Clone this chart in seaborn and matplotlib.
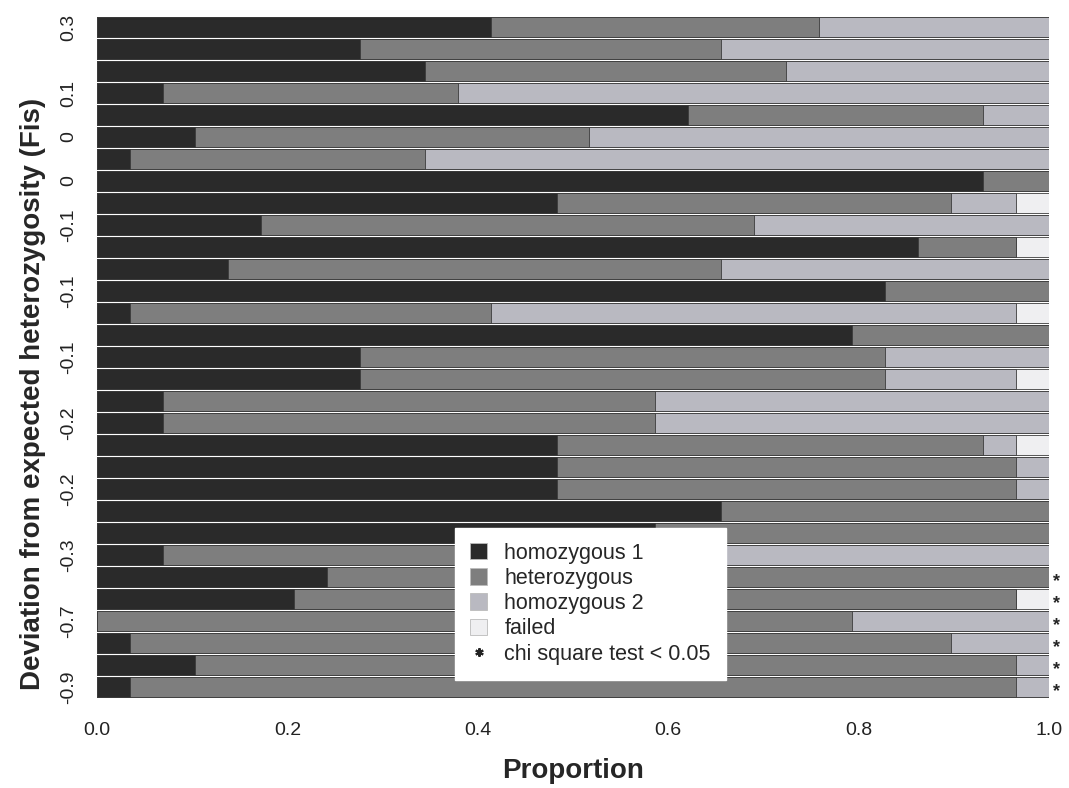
import numpy as np
import pandas as pd
import matplotlib
matplotlib.use("Agg")
import matplotlib.pyplot as plt
from matplotlib.patches import Patch
from matplotlib.lines import Line2D
import seaborn as sns

# Genotype counts per marker (29 individuals each), markers ordered by Fis
n_ind = 29
hom1 = [12, 8, 10, 2, 18, 3, 1, 27, 14, 5, 25, 4, 24, 1, 23, 8, 8, 2, 2, 14, 14, 14, 19, 17, 2, 7, 6, 0, 1, 3, 1]
het = [10, 11, 11, 9, 9, 12, 9, 2, 12, 15, 3, 15, 5, 11, 6, 16, 16, 15, 15, 13, 14, 14, 10, 12, 17, 22, 22, 23, 25, 25, 27]
hom2 = [7, 10, 8, 18, 2, 14, 19, 0, 2, 9, 0, 10, 0, 16, 0, 5, 4, 12, 12, 1, 1, 1, 0, 0, 10, 0, 0, 6, 3, 1, 1]
failed = [0, 0, 0, 0, 0, 0, 0, 0, 1, 0, 1, 0, 0, 1, 0, 0, 1, 0, 0, 1, 0, 0, 0, 0, 0, 0, 1, 0, 0, 0, 0]
chi_sig = [False] * 25 + [True] * 6
fis_labels = ["0.3", "", "", "0.1", "", "0", "", "0", "", "-0.1", "", "", "-0.1", "", "",
              "-0.1", "", "", "-0.2", "", "", "-0.2", "", "", "-0.3", "", "", "-0.7", "", "", "-0.9"]

categories = ["homozygous 1", "heterozygous", "homozygous 2", "failed"]
colors = ["#2a2a2a", "#7e7e7e", "#b9b9c1", "#efeff1"]

markers = [f"m{i:02d}" for i in range(len(hom1))]
counts = pd.DataFrame({"homozygous 1": hom1, "heterozygous": het,
                       "homozygous 2": hom2, "failed": failed}, index=markers)
props = counts / n_ind
cum = props.cumsum(axis=1)

sns.set_style("white")
plt.rcParams["font.family"] = ["Liberation Sans", "DejaVu Sans"]

fig = plt.figure(figsize=(10.69, 7.88), dpi=100)
ax = fig.add_axes([0.0907, 0.1142, 0.8906, 0.8655])

# Stacked horizontal bars: draw cumulative totals from the outermost layer inward
for cat, col in reversed(list(zip(categories, colors))):
    df = pd.DataFrame({"marker": markers, "value": cum[cat].values})
    sns.barplot(data=df, x="value", y="marker", order=markers, orient="y",
                color=col, width=0.88, errorbar=None, edgecolor="#3c3c3c",
                linewidth=0.6, saturation=1, ax=ax)

# Significance stars to the right of the bars
for i, sig in enumerate(chi_sig):
    if sig:
        ax.annotate("*", xy=(cum["failed"].iloc[i], i), xytext=(3, -3),
                    textcoords="offset points", ha="left", va="center",
                    fontsize=13, fontweight="bold", annotation_clip=False)

ax.set_xlim(0, 1)
ax.set_ylim(len(markers) - 0.5, -0.5)
ax.set_xticks([0, 0.2, 0.4, 0.6, 0.8, 1.0])
ax.set_xticklabels(["0.0", "0.2", "0.4", "0.6", "0.8", "1.0"], fontsize=14, color="#222222")
ax.set_yticks(range(len(markers)))
ax.set_yticklabels(fis_labels, rotation=90, va="center", fontsize=14, color="#222222")
ax.tick_params(axis="x", length=0, pad=17)
ax.tick_params(axis="y", length=0, pad=14)
for s in ax.spines.values():
    s.set_visible(False)

ax.set_xlabel("Proportion", fontsize=20, fontweight="bold", labelpad=14)
ax.set_ylabel("Deviation from expected heterozygosity (Fis)", fontsize=20,
              fontweight="bold")
ax.yaxis.set_label_coords(-0.054, 0.446)

handles = [Patch(facecolor=c, edgecolor="#bbbbbb", linewidth=0.6) for c in colors]
handles.append(Line2D([], [], marker=(6, 2, 0), color="#222222", linestyle="none",
                      markersize=6, markeredgewidth=1.5))
leg = ax.legend(handles, categories + ["chi square test < 0.05"], loc="upper left",
                bbox_to_anchor=(0.376, 0.25), fontsize=15.5, frameon=True,
                fancybox=False, framealpha=1, facecolor="white", edgecolor="white",
                handlelength=0.8, handleheight=0.8, handletextpad=0.8,
                labelspacing=0.2, borderpad=0.7, borderaxespad=0)

fig.savefig("out.png", dpi=100, facecolor="white")
